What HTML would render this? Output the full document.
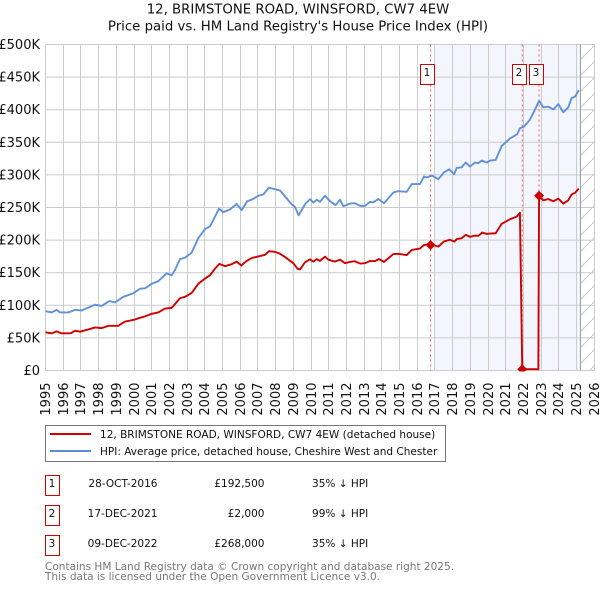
<!DOCTYPE html>
<html lang="en">
<head>
<meta charset="utf-8">
<title>12, Brimstone Road, Winsford price chart</title>
<style>
html,body{margin:0;padding:0;background:#fff;}
body{width:600px;height:590px;overflow:hidden;}
svg{display:block;font-family:"DejaVu Sans","Liberation Sans",sans-serif;}
</style>
</head>
<body>
<svg id="chart" width="600" height="590" viewBox="0 0 600 590" xmlns="http://www.w3.org/2000/svg">
  <defs>
    <pattern id="hatch" patternUnits="userSpaceOnUse" width="16" height="16">
      <path d="M-1 17L17 -1" stroke="#c8c8c8" stroke-width="1" fill="none"/>
    </pattern>
    <clipPath id="plot-clip"><rect x="45" y="44" width="550" height="327.5"/></clipPath>
  </defs>
  <text x="298" y="13.5" text-anchor="middle" font-size="13.3" fill="#111">12, BRIMSTONE ROAD, WINSFORD, CW7 4EW</text>
  <text x="298" y="30.5" text-anchor="middle" font-size="13.3" fill="#111">Price paid vs. HM Land Registry's House Price Index (HPI)</text>
  <g id="plot"></g>

  <g>
    <rect x="45.5" y="425.5" width="400" height="36" fill="#fff" stroke="#777" stroke-width="1"/>
    <line x1="50" x2="91" y1="434" y2="434" stroke="#cc0000" stroke-width="1.9"/>
    <text x="100" y="438" font-size="10.53" fill="#111">12, BRIMSTONE ROAD, WINSFORD, CW7 4EW (detached house)</text>
    <line x1="50" x2="91" y1="451" y2="451" stroke="#5b8bd4" stroke-width="1.9"/>
    <text x="100" y="455" font-size="10.53" fill="#111">HPI: Average price, detached house, Cheshire West and Chester</text>
  </g>

  <g font-size="10.53" fill="#111">
    <g>
      <rect x="45.5" y="475.5" width="14" height="20" fill="#fff" stroke="#cc0000"/>
      <text x="52" y="487" text-anchor="middle">1</text>
      <text x="157.5" y="487" text-anchor="end">28-OCT-2016</text>
      <text x="264.5" y="487" text-anchor="end">£192,500</text>
      <text x="312" y="487">35% ↓ HPI</text>
    </g>
    <g>
      <rect x="45.5" y="505.5" width="14" height="20" fill="#fff" stroke="#cc0000"/>
      <text x="52" y="517" text-anchor="middle">2</text>
      <text x="157.5" y="517" text-anchor="end">17-DEC-2021</text>
      <text x="264.5" y="517" text-anchor="end">£2,000</text>
      <text x="312" y="517">99% ↓ HPI</text>
    </g>
    <g>
      <rect x="45.5" y="535.5" width="14" height="20" fill="#fff" stroke="#cc0000"/>
      <text x="52" y="547" text-anchor="middle">3</text>
      <text x="157.5" y="547" text-anchor="end">09-DEC-2022</text>
      <text x="264.5" y="547" text-anchor="end">£268,000</text>
      <text x="312" y="547">35% ↓ HPI</text>
    </g>
  </g>

  <text x="45" y="570" font-size="10.53" fill="#777">Contains HM Land Registry data © Crown copyright and database right 2025.</text>
  <text x="45" y="580" font-size="10.53" fill="#777">This data is licensed under the Open Government Licence v3.0.</text>
</svg>
<script>
const yearTicks = [1995,1996,1997,1998,1999,2000,2001,2002,2003,2004,2005,2006,2007,2008,2009,2010,2011,2012,2013,2014,2015,2016,2017,2018,2019,2020,2021,2022,2023,2024,2025,2026];
const valueTicks = [0,50,100,150,200,250,300,350,400,450,500];
const valueTickLabels = ['£0','£50K','£100K','£150K','£200K','£250K','£300K','£350K','£400K','£450K','£500K'];

const hpiYears = [1995.0,1995.35,1995.63,1995.82,1996.29,1996.67,1997.04,1997.42,1997.8,1998.17,1998.6,1998.93,1999.4,1999.96,2000.34,2000.62,2001.0,2001.37,2001.84,2002.13,2002.31,2002.6,2002.88,2003.26,2003.63,2004.01,2004.29,2004.48,2004.8,2005.05,2005.42,2005.8,2006.08,2006.4,2006.65,2007.02,2007.3,2007.62,2008.25,2008.53,2008.9,2009.09,2009.3,2009.66,2009.94,2010.13,2010.32,2010.5,2010.79,2011.07,2011.39,2011.64,2011.82,2012.2,2012.48,2012.77,2013.05,2013.33,2013.52,2013.8,2014.12,2014.65,2014.93,2015.4,2015.69,2016.15,2016.38,2016.53,2016.83,2017.19,2017.51,2017.81,2018.08,2018.23,2018.51,2018.74,2018.98,2019.26,2019.45,2019.64,2019.92,2020.11,2020.43,2020.77,2021.24,2021.65,2021.8,2022.03,2022.37,2022.65,2022.88,2023.12,2023.4,2023.69,2023.97,2024.25,2024.53,2024.72,2024.91,2025.12];
const hpiValues = [91,89,93,89,89,93,92,96.5,101,99,106.5,104.5,113,118.5,125.5,126,133,137,149,146,154,171,173,181,203,217,221,231,248,243,247,255.5,246,259.7,262,268,270,280.5,276,267,255,251,238,255,262.7,257.6,262,258.6,268,259.7,253.6,262,252,256,256.6,252.5,252.5,258.6,258,263,256.6,273,275,274,286,286,297.5,296,299,293.4,304,308.5,301,310.7,311.7,319,312.8,319,318,322,319,322,323,344.4,356,362.5,371.6,374,385,400,413.7,403.6,404.6,400.5,408.6,396,403.6,418,420,430];

const priceYears = [1995.0,1995.35,1995.63,1995.91,1996.42,1996.67,1996.95,1997.42,1997.8,1998.17,1998.55,1999.11,1999.49,1999.96,2000.24,2000.62,2001.0,2001.37,2001.75,2002.13,2002.6,2002.88,2003.26,2003.63,2004.01,2004.29,2004.57,2004.82,2005.14,2005.52,2005.8,2006.06,2006.36,2006.65,2007.02,2007.4,2007.62,2007.96,2008.25,2008.53,2009.0,2009.24,2009.38,2009.66,2009.94,2010.13,2010.32,2010.5,2010.79,2010.98,2011.35,2011.64,2011.92,2012.2,2012.48,2012.77,2013.05,2013.33,2013.61,2013.84,2014.12,2014.65,2014.93,2015.4,2015.69,2016.15,2016.38,2016.74,2017.19,2017.51,2017.85,2018.1,2018.23,2018.51,2018.74,2018.98,2019.26,2019.45,2019.68,2019.92,2020.11,2020.43,2020.77,2021.24,2021.62,2021.8,2021.93,2022.84,2022.88,2023.12,2023.4,2023.69,2023.97,2024.25,2024.53,2024.72,2024.91,2025.12];
const priceValues = [58.5,57,60,57,57,61,59.5,63,66,65,68.5,68.5,75,77.5,80,83,87,89,95,96,111,113,119,133,141,146,156,163.5,160,163,167,161,168,172.5,175,177.5,183,182,179,174,164.6,156,155,166,170.5,167,171,168,174.6,170,167,170,164.6,166.6,167.6,164,164.6,168,167.6,171,166.6,178.6,179,177,185,187,192.5,193.5,190,198,200.5,197.6,201.6,203,208,205,207,206.5,211.6,209.5,210,210.5,225,232,236,242,2,2,268,261,263,259.6,263.6,256,261,270,272.5,279];

const saleNumbers = ['1','2','3'];
const saleYears = [2016.75,2021.93,2022.88];
const salePrices = [192.5,2,268];
const shadeStartYear = 2017;
const dataEndYear = 2025.2;

const SVGNS = 'http://www.w3.org/2000/svg';
const plot = document.getElementById('plot');
const xOf = function (year) { return 45.5 + (year - 1995) * 17.703; };
const yOf = function (value) { return 370.5 - value * 0.652; };
const snap = function (v) { return Math.floor(v) + 0.5; };
function make(tag, attrs, parent) {
  const el = document.createElementNS(SVGNS, tag);
  for (const k in attrs) el.setAttribute(k, attrs[k]);
  (parent || plot).appendChild(el);
  return el;
}
const top_ = yOf(500), bottom = yOf(0), left = xOf(1995), right = snap(xOf(2026));
const endX = xOf(dataEndYear) + 0.3;

const shade = make('rect', {x: snap(xOf(shadeStartYear)), y: top_, width: endX - snap(xOf(shadeStartYear)), height: bottom - top_, fill: '#f3f6fe'});



yearTicks.forEach(function (yr) {
  const x = snap(xOf(yr));
  const g = make('line', {x1: x, x2: x, y1: top_, y2: bottom, stroke: '#cccccc', 'stroke-width': 1});
  
  
  const t = make('text', {transform: 'translate(' + (x + 4.5) + ',382.5) rotate(-90)', 'text-anchor': 'end', 'font-size': 13, fill: '#111'});
  t.textContent = String(yr);
  
  
});

valueTicks.forEach(function (v, i) {
  const y = yOf(v);
  const g = make('line', {x1: left, x2: right, y1: y, y2: y, stroke: '#cccccc', 'stroke-width': 1});
  
  
  const t = make('text', {x: 40, y: y + 4.5, 'text-anchor': 'end', 'font-size': 13, fill: '#111'});
  t.textContent = valueTickLabels[i];
  
  
});

const hatch = make('rect', {x: endX, y: top_, width: right - endX, height: bottom - top_, fill: 'url(#hatch)'});


const endLine = make('line', {x1: endX, x2: endX, y1: top_, y2: bottom, stroke: '#9a9aa2', 'stroke-width': 1});



saleYears.forEach(function (yr) {
  const x = xOf(yr);
  const d = make('line', {x1: x, x2: x, y1: top_, y2: bottom, stroke: '#ff5555', 'stroke-width': 1, 'stroke-dasharray': '2 3'});
  
  
});

function pathOf(xs, ys) {
  return xs.map(function (yr, i) { return (i ? 'L' : 'M') + xOf(yr).toFixed(2) + ' ' + yOf(ys[i]).toFixed(2); }).join('');
}
const hpiLine = make('path', {d: pathOf(hpiYears, hpiValues), fill: 'none', stroke: '#5b8bd4', 'stroke-width': 1.9, 'stroke-linejoin': 'round', opacity: 0.95});


const priceLine = make('path', {d: pathOf(priceYears, priceValues), fill: 'none', stroke: '#cc0000', 'stroke-width': 1.9, 'stroke-linejoin': 'round', 'clip-path': 'url(#plot-clip)'});



saleYears.forEach(function (yr, i) {
  const x = xOf(yr), y = yOf(salePrices[i]), r = 5;
  const m = make('path', {d: 'M' + x + ' ' + (y - r) + 'L' + (x + r) + ' ' + y + 'L' + x + ' ' + (y + r) + 'L' + (x - r) + ' ' + y + 'Z', fill: '#cc0000', 'clip-path': 'url(#plot-clip)'});
  
  
});

saleNumbers.forEach(function (label, i) {
  const cx = Math.round(xOf(saleYears[i])) - [3.5, 2.5, 2.5][i];
  const b = make('rect', {x: cx - 7, y: 64.5, width: 14, height: 20, fill: '#fff', stroke: '#cc0000', 'stroke-width': 1});
  
  
  const t = make('text', {x: cx - 0.5, y: 76, 'text-anchor': 'middle', 'font-size': 10.53, fill: '#111'});
  t.textContent = label;
  
  
});
</script>
</body>
</html>
